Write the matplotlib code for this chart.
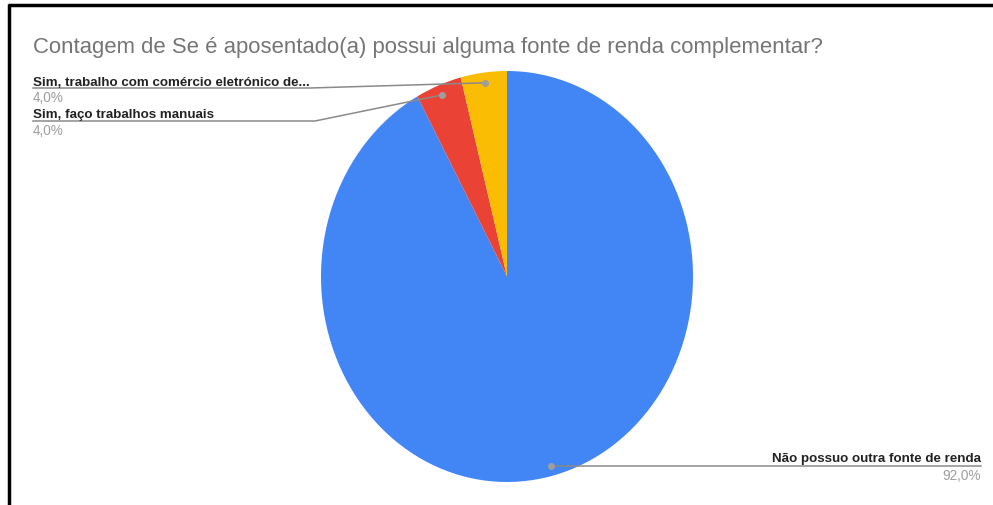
import matplotlib.pyplot as plt
import numpy as np
from matplotlib.lines import Line2D

# data
labels = ['Não possuo outra fonte de renda',
          'Sim, faço trabalhos manuais',
          'Sim, trabalho com comércio eletrónico de...']
counts = [23, 1, 1]
colors = ['#4285F4', '#EA4335', '#FBBC04']
title = 'Contagem de Se é aposentado(a) possui alguma fonte de renda complementar?'

total = sum(counts)
pcts = ['{:.1f}%'.format(100 * c / total).replace('.', ',') for c in counts]

W, H = 993, 506
fig = plt.figure(figsize=(W / 100, H / 100), dpi=100)
fig.patch.set_facecolor('white')

# pie (slightly elliptical, like the reference)
left, right, top, bottom = 321, 693, 72, 483
ax = fig.add_axes([left / W, (H - bottom) / H, (right - left) / W, (bottom - top) / H])
wedges, _ = ax.pie(counts, colors=colors, startangle=90, counterclock=False,
                   wedgeprops=dict(linewidth=0))
ax.set_aspect('auto')
ax.set_xlim(-1, 1)
ax.set_ylim(-1, 1)
ax.axis('off')

# overlay in pixel coords
ov = fig.add_axes([0, 0, 1, 1])
ov.set_xlim(0, W)
ov.set_ylim(H, 0)
ov.axis('off')

fig.canvas.draw()


def anchor(w):
    a = np.deg2rad((w.theta1 + w.theta2) / 2)
    disp = ax.transData.transform((0.95 * np.cos(a), 0.95 * np.sin(a)))
    return ov.transData.inverted().transform(disp)


line_c = '#8a8a8a'
lab_font = dict(family='Liberation Sans', fontsize=9.6, fontweight='bold', color='#222222')
pct_font = dict(family='Liberation Sans', fontsize=9.8, color='#9e9e9e')

# title
ov.text(33, 52.5, title, family='Liberation Sans', fontsize=15.9, color='#757575',
        va='baseline', ha='left')

# yellow (top left)
px, py = anchor(wedges[2])
ov.plot([33, 310, px], [89, 89, py], color=line_c, lw=1.1)
ov.plot(px, py, 'o', color='#9e9e9e', ms=4)
ov.text(33, 86, labels[2], ha='left', va='baseline', **lab_font)
ov.text(33, 102, pcts[2], ha='left', va='baseline', **pct_font)

# red
px, py = anchor(wedges[1])
ov.plot([33, 315, px], [122, 122, py], color=line_c, lw=1.1)
ov.plot(px, py, 'o', color='#9e9e9e', ms=4)
ov.text(33, 118, labels[1], ha='left', va='baseline', **lab_font)
ov.text(33, 135, pcts[1], ha='left', va='baseline', **pct_font)

# blue (bottom right)
px, py = anchor(wedges[0])
ov.plot([px, 981], [py, py], color=line_c, lw=1.1)
ov.plot(px, py, 'o', color='#9e9e9e', ms=4)
ov.text(981, 462, labels[0], ha='right', va='baseline', **lab_font)
ov.text(981, 480, pcts[0], ha='right', va='baseline', **pct_font)

# black frame on top and left
fig.add_artist(Line2D([8 / W, 1], [1 - 5.5 / H, 1 - 5.5 / H], color='black', lw=2.5,
                      solid_capstyle='butt', transform=fig.transFigure))
fig.add_artist(Line2D([8.5 / W, 8.5 / W], [0, 1 - 4.5 / H], color='black', lw=2.5,
                      solid_capstyle='butt', transform=fig.transFigure))

fig.savefig('out.png', dpi=100)
